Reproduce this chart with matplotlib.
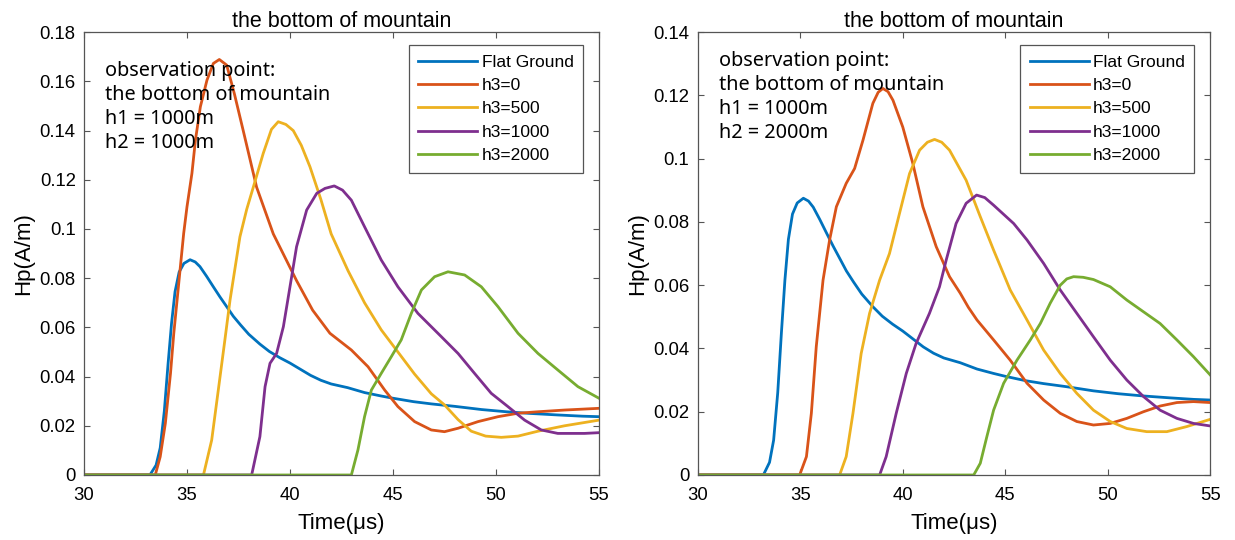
import matplotlib.pyplot as plt

# flat ground response (same in both panels)
t_flat = [30, 33.2, 33.5, 33.7, 33.9, 34.08, 34.25, 34.42, 34.62, 34.85, 35.15, 35.4, 35.63, 35.95,
          36.28, 36.6, 36.93, 37.25, 37.6, 38.0, 38.54, 39.0, 39.5, 40.0, 40.5, 41.0, 41.5, 42.0,
          42.8, 43.62, 44.43, 45.0, 46.0, 46.86, 48.0, 49.3, 50.5, 51.7, 53.0, 54.2, 55]
hp_flat = [0, 0, 0.004, 0.011, 0.026, 0.045, 0.0616, 0.0745, 0.0825, 0.086, 0.0875, 0.0866, 0.0847, 0.0808,
           0.0765, 0.0724, 0.0684, 0.0645, 0.061, 0.0572, 0.0532, 0.0502, 0.0477, 0.0455, 0.0430, 0.0405, 0.0385, 0.037,
           0.0355, 0.0335, 0.0321, 0.0312, 0.0298, 0.0289, 0.0279, 0.0266, 0.0257, 0.0250, 0.0244, 0.0239, 0.0237]

# ---- left panel: h1 = 1000m, h2 = 1000m ----
t_a0 = [30, 33.46, 33.7, 33.95, 34.2, 34.36, 34.52, 34.68, 34.84, 35.0, 35.24, 35.41, 35.65, 35.97,
        36.28, 36.57, 36.93, 37.3, 37.73, 38.38, 39.19, 40.32, 41.1, 41.94, 42.98, 43.79, 44.6,
        45.24, 46.05, 46.86, 47.5, 48.16, 49.13, 50.1, 51.07, 52.04, 53.33, 55]
hp_a0 = [0, 0, 0.0074, 0.021, 0.0413, 0.0576, 0.0711, 0.0847, 0.0982, 0.109, 0.1226, 0.1361, 0.1497, 0.1605,
         0.1673, 0.1689, 0.1666, 0.155, 0.140, 0.117, 0.098, 0.079, 0.067, 0.0576, 0.0508, 0.044, 0.0345,
         0.0278, 0.0217, 0.0183, 0.0176, 0.019, 0.0217, 0.0237, 0.0251, 0.0257, 0.0264, 0.0271]

t_a500 = [30, 35.8, 36.2, 36.52, 36.84, 37.09, 37.57, 37.9, 38.22, 38.7, 39.1, 39.43, 39.8, 40.16,
          40.55, 40.97, 41.5, 42.0, 42.82, 43.62, 44.43, 45.24, 46.05, 46.86, 47.5, 48.16, 48.8,
          49.5, 50.26, 51.07, 52.04, 53.33, 55]
hp_a500 = [0, 0, 0.0142, 0.0345, 0.0549, 0.0711, 0.0968, 0.108, 0.117, 0.1307, 0.1405, 0.1436, 0.1425, 0.140,
           0.134, 0.1253, 0.112, 0.098, 0.083, 0.070, 0.059, 0.050, 0.041, 0.033, 0.0285, 0.0225, 0.0178,
           0.0158, 0.0153, 0.0158, 0.0178, 0.0200, 0.0223]

t_a1000 = [30, 38.14, 38.54, 38.79, 39.03, 39.35, 39.68, 40.0, 40.32, 40.81, 41.3, 41.7, 42.15, 42.55,
           42.98, 43.62, 44.43, 45.24, 46.21, 47.35, 48.16, 48.96, 49.77, 50.58, 51.39, 52.2, 53.0,
           54.3, 55]
hp_a1000 = [0, 0, 0.0156, 0.0359, 0.0454, 0.0494, 0.0603, 0.0765, 0.0928, 0.1077, 0.1145, 0.1165, 0.1175, 0.1158,
            0.1117, 0.1009, 0.0874, 0.0765, 0.0657, 0.0562, 0.0494, 0.0413, 0.0332, 0.0278, 0.0223, 0.0183, 0.0169,
            0.0169, 0.0172]

t_a2000 = [30, 42.98, 43.3, 43.62, 43.95, 44.43, 44.92, 45.4, 45.89, 46.38, 47.02, 47.67, 48.48, 49.29,
           50.1, 51.07, 52.04, 53.0, 53.98, 55]
hp_a2000 = [0, 0, 0.0102, 0.0237, 0.0345, 0.0413, 0.0481, 0.0549, 0.0657, 0.0752, 0.0806, 0.0826, 0.0813, 0.0765,
            0.0684, 0.0576, 0.0494, 0.0427, 0.0359, 0.0312]

# ---- right panel: h1 = 1000m, h2 = 2000m ----
t_b0 = [30, 34.97, 35.3, 35.54, 35.78, 36.11, 36.43, 36.76, 37.24, 37.65, 38.06, 38.54, 38.8, 39.03,
        39.28, 39.52, 40.0, 40.49, 40.98, 41.63, 42.28, 42.8, 43.2, 43.62, 44.43, 45.24, 46.06, 46.87,
        47.68, 48.49, 49.3, 50.12, 50.93, 51.74, 52.55, 53.37, 54.18, 55]
hp_b0 = [0, 0, 0.0058, 0.0195, 0.0406, 0.0616, 0.0743, 0.0848, 0.0922, 0.0969, 0.1059, 0.1175, 0.1210, 0.1222,
         0.1212, 0.1185, 0.110, 0.0985, 0.0848, 0.0722, 0.0627, 0.0575, 0.053, 0.049, 0.0427, 0.0363, 0.029, 0.0237,
         0.0195, 0.0169, 0.0158, 0.0163, 0.0179, 0.020, 0.0218, 0.0229, 0.0232, 0.0229]

t_b500 = [30, 36.92, 37.24, 37.57, 37.97, 38.38, 38.87, 39.35, 39.84, 40.33, 40.82, 41.2, 41.55, 41.9,
          42.28, 43.09, 43.76, 44.43, 45.24, 46.06, 46.87, 47.68, 48.49, 49.3, 50.12, 50.93, 51.9,
          52.88, 53.85, 55]
hp_b500 = [0, 0, 0.0058, 0.0195, 0.0384, 0.0511, 0.0616, 0.070, 0.0827, 0.0953, 0.1027, 0.1052, 0.1061, 0.1052,
           0.1027, 0.0932, 0.082, 0.0711, 0.0585, 0.049, 0.0395, 0.0321, 0.0258, 0.0205, 0.0169, 0.0147, 0.0137,
           0.0137, 0.0153, 0.0176]

t_b1000 = [30, 38.87, 39.19, 39.68, 40.17, 40.65, 41.3, 41.79, 42.12, 42.6, 43.09, 43.6, 44.0, 44.43,
           45.41, 46.06, 46.87, 47.68, 48.49, 49.3, 50.12, 50.93, 51.74, 52.55, 53.37, 54.18, 55]
hp_b1000 = [0, 0, 0.0058, 0.0195, 0.0321, 0.0416, 0.0511, 0.0595, 0.068, 0.0795, 0.0859, 0.0885, 0.0877, 0.0853,
            0.0795, 0.0743, 0.0669, 0.0585, 0.0511, 0.0437, 0.0363, 0.030, 0.0248, 0.0205, 0.0179, 0.0163, 0.0155]

t_b2000 = [30, 43.46, 43.78, 44.1, 44.43, 44.92, 45.57, 46.22, 46.71, 47.19, 47.68, 48.0, 48.33, 48.8,
           49.3, 50.12, 50.93, 51.74, 52.55, 53.37, 54.18, 55]
hp_b2000 = [0, 0, 0.0037, 0.0121, 0.0205, 0.029, 0.0363, 0.0427, 0.0479, 0.0543, 0.060, 0.0620, 0.0627, 0.0625,
            0.0618, 0.0595, 0.0553, 0.0516, 0.0479, 0.0427, 0.0374, 0.0316]

labels = ['Flat Ground', 'h3=0', 'h3=500', 'h3=1000', 'h3=2000']
colors = ['#0072BD', '#D95319', '#EDB120', '#7E2F8E', '#77AC30']
left_ticks = [0, 0.02, 0.04, 0.06, 0.08, 0.1, 0.12, 0.14, 0.16, 0.18]
right_ticks = [0, 0.02, 0.04, 0.06, 0.08, 0.1, 0.12, 0.14]
left_note = 'observation point:\nthe bottom of mountain\nh1 = 1000m\nh2 = 1000m'
right_note = 'observation point:\nthe bottom of mountain\nh1 = 1000m\nh2 = 2000m'

plt.rcParams['font.family'] = ['Liberation Sans', 'DejaVu Sans']

fig = plt.figure(figsize=(12.35, 5.4), dpi=100)
ax1 = fig.add_axes([0.068, 0.1204, 0.417, 0.820])
ax2 = fig.add_axes([0.565, 0.1204, 0.415, 0.820])

panels = [
    (ax1, [(t_flat, hp_flat), (t_a0, hp_a0), (t_a500, hp_a500), (t_a1000, hp_a1000), (t_a2000, hp_a2000)],
     left_ticks, 0.18, left_note, 0.935),
    (ax2, [(t_flat, hp_flat), (t_b0, hp_b0), (t_b500, hp_b500), (t_b1000, hp_b1000), (t_b2000, hp_b2000)],
     right_ticks, 0.14, right_note, 0.957),
]

for ax, series, yticks, ymax, note, note_y in panels:
    for (t, hp), c, lab in zip(series, colors, labels):
        ax.plot(t, hp, color=c, lw=2, label=lab, solid_joinstyle='round')
    ax.set_xlim(30, 55)
    ax.set_ylim(0, ymax)
    ax.set_xticks([30, 35, 40, 45, 50, 55])
    ax.set_yticks(yticks)
    ax.set_yticklabels(['0' if v == 0 else f'{v:g}' for v in yticks])
    ax.tick_params(direction='in', length=4, width=0.8, color='#555555', labelsize=13.3,
                   top=True, right=True)
    ax.tick_params(axis='x', pad=9)
    ax.tick_params(axis='y', pad=6)
    for sp in ax.spines.values():
        sp.set_color('#555555')
        sp.set_linewidth(0.9)
    ax.set_title('the bottom of mountain', fontsize=15.5, pad=4)
    ax.set_xlabel('Time(μs)', fontsize=16, labelpad=6)
    ax.set_ylabel('Hp(A/m)', fontsize=16, labelpad=4)
    ax.text(0.041, note_y, note, transform=ax.transAxes, va='top', ha='left',
            fontsize=14.3, family=['Noto Sans', 'DejaVu Sans'], linespacing=1.27)
    leg = ax.legend(loc='upper right', bbox_to_anchor=(0.969, 0.971), borderaxespad=0,
                    fontsize=12.5, handlelength=3.4, handletextpad=0.25, labelspacing=0.47,
                    fancybox=False, framealpha=1, edgecolor='#555555', borderpad=0.55)
    leg.get_frame().set_linewidth(0.9)

fig.savefig('out.png', dpi=100)
